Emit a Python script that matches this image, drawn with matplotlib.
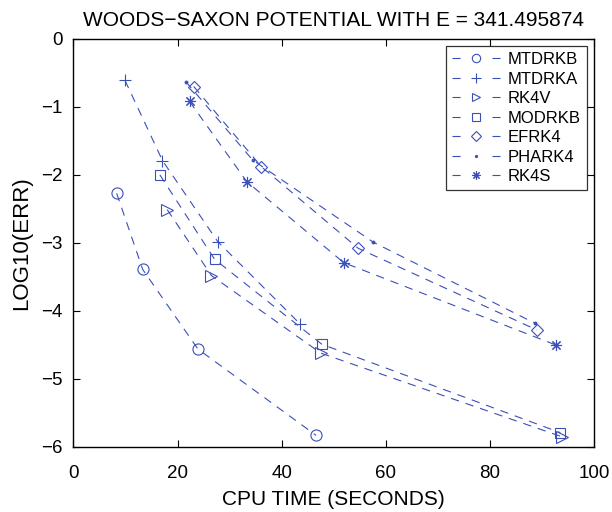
import matplotlib
matplotlib.use("Agg")
import matplotlib.pyplot as plt

plt.rcParams['font.family'] = ['Liberation Sans', 'DejaVu Sans']
plt.rcParams['lines.scale_dashes'] = False

names = ["MTDRKB", "MTDRKA", "RK4V", "MODRKB", "EFRK4", "PHARK4", "RK4S"]
x_mtdrkb = [8.3, 13.3, 23.9, 46.6]
y_mtdrkb = [-2.27, -3.39, -4.56, -5.83]
x_mtdrka = [9.9, 17.1, 27.7, 43.5]
y_mtdrka = [-0.61, -1.79, -2.98, -4.19]
x_rk4v = [18.0, 26.5, 47.5, 93.8]
y_rk4v = [-2.51, -3.48, -4.62, -5.85]
x_modrkb = [16.6, 27.1, 47.7, 93.5]
y_modrkb = [-2.00, -3.24, -4.49, -5.79]
x_efrk4 = [23.1, 36.1, 54.7, 89.0]
y_efrk4 = [-0.70, -1.88, -3.08, -4.28]
x_phark4 = [21.6, 34.4, 57.6, 88.6]
y_phark4 = [-0.63, -1.78, -2.99, -4.18]
x_rk4s = [22.3, 33.3, 51.9, 92.6]
y_rk4s = [-0.92, -2.10, -3.29, -4.50]

xs = [x_mtdrkb, x_mtdrka, x_rk4v, x_modrkb, x_efrk4, x_phark4, x_rk4s]
ys = [y_mtdrkb, y_mtdrka, y_rk4v, y_modrkb, y_efrk4, y_phark4, y_rk4s]
markers = ['o', '+', '>', 's', 'D', '.', (8, 2, 0)]
msizes = [8, 9, 8, 7, 6.5, 4, 8]

color = '#3b4fb8'

fig = plt.figure(figsize=(6.12, 5.12), dpi=100)
ax = fig.add_axes([0.12, 0.127, 0.851, 0.797])

for name, x, y, m, ms in zip(names, xs, ys, markers, msizes):
    ax.plot(x, y, color=color, linestyle=(0, (6, 5)), linewidth=0.8,
            marker=m, markersize=ms, markerfacecolor='none' if m != '.' else color,
            markeredgecolor=color, markeredgewidth=0.8, label=name)

ax.set_xlim(0, 100)
ax.set_ylim(-6, 0)
ax.set_xticks([0, 20, 40, 60, 80, 100])
ax.set_yticks([-6, -5, -4, -3, -2, -1, 0])
ax.tick_params(direction='in', top=True, right=True, labelsize=13.5, length=5, width=0.8)
ax.tick_params(axis='x', pad=13)
ax.tick_params(axis='y', pad=8)
for s in ax.spines.values():
    s.set_linewidth(1.0)

ax.set_xlabel("CPU TIME (SECONDS)", fontsize=15, labelpad=6)
ax.set_ylabel("LOG10(ERR)", fontsize=16, labelpad=6)
ax.set_title("WOODS\u2212SAXON POTENTIAL WITH E = 341.495874", fontsize=15, pad=9)

leg = ax.legend(loc='upper right', fontsize=12, frameon=True, fancybox=False,
                edgecolor='black', handlelength=2.9, borderaxespad=0.45,
                labelspacing=0.27, handletextpad=0.45, borderpad=0.35,
                markerscale=0.75)
leg.get_frame().set_linewidth(0.9)
for ln in leg.get_lines():
    ln.set_linestyle((0, (5.8, 23)))

fig.savefig("out.png", dpi=100)
